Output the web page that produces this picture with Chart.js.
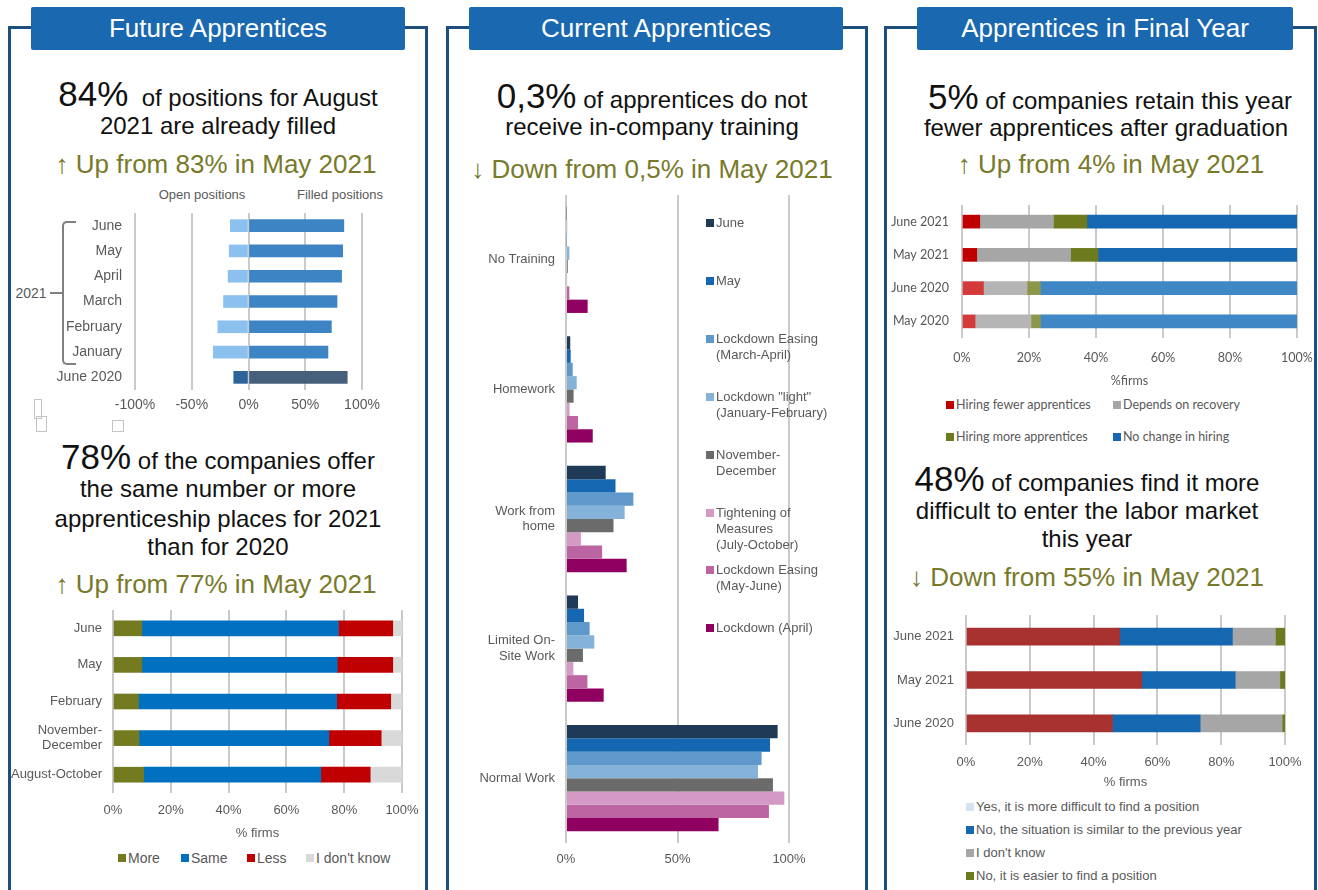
<!DOCTYPE html>
<html>
<head>
<meta charset="utf-8">
<title>Apprentices survey</title>
<script src="https://cdn.jsdelivr.net/npm/chart.js@4.4.1/dist/chart.umd.min.js"></script>
<style>
  html, body { margin: 0; padding: 0; background: #fff; }
  body { width: 1318px; height: 890px; position: relative; overflow: hidden;
         font-family: "Liberation Sans", Arial, sans-serif; }
  .panel { position: absolute; top: 26px; height: 880px; border: 3px solid #1d4f7c;
           border-bottom: none; box-sizing: border-box; }
  .hdr { position: absolute; top: 7px; height: 43px; background: #1a68b0; color: #fff;
         font-size: 26px; line-height: 43px; text-align: center; border-radius: 2px; }
  .ln { position: absolute; white-space: nowrap; transform: translateX(-50%);
        color: #111; font-size: 24px; line-height: 34px; }
  .ln b { font-weight: normal; font-size: 35px; }
  .up { color: #787a2a; font-size: 26px; }
  .note { position: absolute; font-size: 13px; color: #595959; white-space: nowrap;
          transform: translateX(-50%); line-height: 16px; }
  canvas { position: absolute; }
  .lg { position: absolute; font-size: 13px; color: #595959; white-space: pre-line; line-height: 16px; }
  .lg i { position: absolute; left: -10px; top: 4px; width: 8px; height: 8px; }
  .bk { position: absolute; border: 2px solid #808080; border-right: none; border-radius: 5px 0 0 5px; }
  .odd { position: absolute; border: 1px solid #c4c4c4; }
</style>
</head>
<body>

<div class="panel" style="left:8px;width:420px"></div>
<div class="panel" style="left:446px;width:422px"></div>
<div class="panel" style="left:884px;width:433px"></div>
<div class="hdr" style="left:31px;width:374px">Future Apprentices</div>
<div class="hdr" style="left:469px;width:374px">Current Apprentices</div>
<div class="hdr" style="left:917px;width:376px">Apprentices in Final Year</div>

<!-- panel 1 texts -->
<div class="ln" style="left:218px;top:74px;line-height:40px"><b>84%</b>&nbsp; of positions for August</div>
<div class="ln" style="left:218px;top:109px">2021 are already filled</div>
<div class="ln up" style="left:216px;top:147px">↑ Up from 83% in May 2021</div>
<div class="note" style="left:202px;top:187px">Open positions</div>
<div class="note" style="left:340px;top:187px">Filled positions</div>
<div class="note" style="left:31px;top:285px;font-size:14px">2021</div>
<div class="bk" style="left:62px;top:221px;width:12px;height:140px"></div>
<div style="position:absolute;left:50px;top:292px;width:12px;height:2px;background:#808080"></div>
<div class="odd" style="left:34px;top:399px;width:6px;height:18px"></div>
<div class="odd" style="left:36px;top:416px;width:9px;height:14px"></div>
<div class="odd" style="left:112px;top:420px;width:10px;height:10px"></div>

<div class="ln" style="left:218px;top:437px;line-height:40px"><b>78%</b> of the companies offer</div>
<div class="ln" style="left:218px;top:472px">the same number or more</div>
<div class="ln" style="left:218px;top:502px">apprenticeship places for 2021</div>
<div class="ln" style="left:218px;top:530px">than for 2020</div>
<div class="ln up" style="left:216px;top:567px">↑ Up from 77% in May 2021</div>

<!-- panel 2 texts -->
<div class="ln" style="left:652px;top:76px;line-height:40px"><b>0,3%</b> of apprentices do not</div>
<div class="ln" style="left:652px;top:110px">receive in-company training</div>
<div class="ln up" style="left:652px;top:152px">↓ Down from 0,5% in May 2021</div>

<!-- panel 3 texts -->
<div class="ln" style="left:1110px;top:77px;line-height:40px"><b>5%</b> of companies retain this year</div>
<div class="ln" style="left:1106px;top:111px">fewer apprentices after graduation</div>
<div class="ln up" style="left:1111px;top:147px">↑ Up from 4% in May 2021</div>
<div class="ln" style="left:1087px;top:459px;line-height:40px"><b>48%</b> of companies find it more</div>
<div class="ln" style="left:1087px;top:494px">difficult to enter the labor market</div>
<div class="ln" style="left:1087px;top:522px">this year</div>
<div class="ln up" style="left:1087px;top:560px">↓ Down from 55% in May 2021</div>

<script>
// --- Future apprentices: open vs filled positions (%)
const futureLabels = ['June', 'May', 'April', 'March', 'February', 'January', 'June 2020'];
const openPositions = [-16, -17, -18, -22, -27, -31, -13];
const filledPositions = [84, 83, 82, 78, 73, 70, 87];

// --- Apprenticeship places 2021 vs 2020 (% firms)
const offerLabels = ['June', 'May', 'February', ['November-', 'December'], 'August-October'];
const offerSeries = ['More', 'Same', 'Less', "I don't know"];
const offerMore = [10, 10, 8.8, 9, 10.6];
const offerSame = [68, 67.6, 68.6, 65.7, 61.3];
const offerLess = [18.8, 19.2, 18.7, 18.1, 17.1];
const offerDontKnow = [3.2, 3.2, 3.9, 7.2, 11];

// --- Current apprentices: training situation (%)
const trainingLabels = ['No Training', 'Homework', ['Work from', 'home'], ['Limited On-', 'Site Work'], 'Normal Work'];
const trainingSeries = ['June', 'May', 'Lockdown Easing\n(March-April)', 'Lockdown "light"\n(January-February)',
  'November-\nDecember', 'Tightening of\nMeasures\n(July-October)', 'Lockdown Easing\n(May-June)', 'Lockdown (April)'];
const trainJune = [0.3, 1.9, 17.8, 5.4, 94.9];
const trainMay = [0.5, 2.1, 22.2, 8.1, 91.5];
const trainEasingMarApr = [0.2, 3.0, 30.2, 10.6, 87.7];
const trainLight = [1.5, 4.8, 26.3, 12.7, 86.1];
const trainNovDec = [0.8, 3.4, 21.3, 7.6, 92.8];
const trainTightening = [0.5, 1.6, 6.7, 3.3, 97.9];
const trainEasingMayJun = [1.5, 5.4, 16.2, 9.6, 91.0];
const trainLockdown = [9.7, 12.0, 27.2, 16.9, 68.4];

// --- Final year: hiring after graduation (% firms)
const finalLabels = ['June 2021', 'May 2021', 'June 2020', 'May 2020'];
const finalSeries = ['Hiring fewer apprentices', 'Depends on recovery', 'Hiring more apprentices', 'No change in hiring'];
const hireFewer = [5.3, 4.4, 6.4, 3.9];
const hireDepends = [22, 28, 13, 16.7];
const hireMore = [10, 8.2, 4, 2.8];
const hireNoChange = [62.7, 59.4, 76.6, 76.6];

// --- Harder to enter the labour market (% firms)
const marketLabels = ['June 2021', 'May 2021', 'June 2020'];
const marketSeries = ['Yes, it is more difficult to find a position', 'No, the situation is similar to the previous year',
  "I don't know", 'No, it is easier to find a position'];
const moreDifficult = [48.2, 55.1, 45.9];
const sameAsBefore = [35.3, 29.3, 27.5];
const marketDontKnow = [13.5, 14.0, 25.7];
const easier = [3.0, 1.6, 0.9];

Chart.defaults.font.family = '"Liberation Sans", Arial, sans-serif';
Chart.defaults.color = '#595959';
Chart.defaults.animation = false;
Chart.defaults.plugins.legend.display = false;
Chart.defaults.plugins.tooltip.enabled = false;

function place(id, left, top, w, h) {
  const c = document.createElement('canvas');
  c.id = id;
  c.width = w;
  c.height = h;
  c.style.left = left + 'px';
  c.style.top = top + 'px';
  document.body.appendChild(c);
  return c.getContext('2d');
}

function legendItem(text, color, x, y, extra) {
  const d = document.createElement('div');
  d.className = 'lg';
  d.style.left = x + 'px';
  d.style.top = (y - 8) + 'px';
  if (extra) Object.assign(d.style, extra);
  d.textContent = text;
  const sw = document.createElement('i');
  sw.style.background = color;
  d.appendChild(sw);
  document.body.appendChild(d);
}

// x axis helper: percentage ticks, vertical grid only
function pctAxis(min, max, step, height, pad, size, extra) {
  return Object.assign({
    stacked: true, min: min, max: max,
    ticks: { stepSize: step, callback: v => v + '%', font: { size: size }, padding: pad },
    grid: { color: '#cacaca', lineWidth: 2, drawTicks: false },
    border: { display: false },
    afterFit: s => { s.height = height; s.paddingLeft = 0; s.paddingRight = 0; }
  }, extra || {});
}
// category axis helper: fixed width, no label overhang so the plot edges stay put
function catAxis(width, pad, size, family) {
  return {
    stacked: true,
    grid: { display: false, drawTicks: false },
    border: { display: false },
    ticks: { padding: pad, font: { size: size, family: family } },
    afterFit: s => { s.width = width; s.paddingTop = 0; s.paddingBottom = 0; }
  };
}

// chart 1
const is2020 = futureLabels.map(l => l === 'June 2020');
new Chart(place('futureChart', 10, 205, 380, 212), {
  type: 'bar',
  data: {
    labels: futureLabels,
    datasets: [
      { label: 'Open positions', data: openPositions, barThickness: 12,
        backgroundColor: is2020.map(b => b ? '#2c6399' : '#8cc1ef') },
      { label: 'Filled positions', data: filledPositions, barThickness: 12,
        backgroundColor: is2020.map(b => b ? '#465f7b' : '#3d84c4') }
    ]
  },
  options: {
    indexAxis: 'y', responsive: false,
    layout: { padding: { top: 8, right: 28, bottom: 0, left: 0 } },
    scales: {
      x: pctAxis(-100, 100, 50, 27, 7, 14, {}),
      y: catAxis(125, 13, 14)
    }
  }
});

// chart 2
const offerColors = ['#737a1f', '#0070c0', '#c00000', '#d9d9d9'];
new Chart(place('offerChart', 10, 600, 410, 241), {
  type: 'bar',
  data: {
    labels: offerLabels,
    datasets: [offerMore, offerSame, offerLess, offerDontKnow].map((d, i) => ({
      label: offerSeries[i], data: d, backgroundColor: offerColors[i], barThickness: 15
    }))
  },
  options: {
    indexAxis: 'y', responsive: false,
    layout: { padding: { top: 10, right: 18, bottom: 0, left: 0 } },
    scales: {
      x: pctAxis(0, 100, 20, 48, 10, 13, {
        title: { display: true, text: '% firms', font: { size: 13 }, padding: 0 }
      }),
      y: catAxis(103, 11, 13)
    }
  }
});
[118, 181, 247, 306].forEach((x, i) => legendItem(offerSeries[i], offerColors[i], x + 10, 858, { fontSize: '14px' }));

// chart 3
const trainColors = ['#1e3a56', '#1467b0', '#5f98cb', '#85b2d9', '#6b6b6b', '#d49ac5', '#bd64a3', '#900060'];
const trainData = [trainJune, trainMay, trainEasingMarApr, trainLight, trainNovDec, trainTightening, trainEasingMayJun, trainLockdown];
new Chart(place('trainingChart', 449, 188, 415, 685), {
  type: 'bar',
  data: {
    labels: trainingLabels,
    datasets: trainData.map((d, i) => ({
      label: trainingSeries[i].replace(/\n/g, ' '), data: d, backgroundColor: trainColors[i],
      categoryPercentage: 0.82, barPercentage: 1.0
    }))
  },
  options: {
    indexAxis: 'y', responsive: false,
    layout: { padding: { top: 7, right: 75, bottom: 0, left: 0 } },
    scales: {
      x: pctAxis(0, 100, 50, 30, 9, 13, { stacked: false }),
      y: Object.assign(catAxis(117, 11, 13), { stacked: false })
    }
  }
});
trainingSeries.forEach((s, i) => legendItem(s, trainColors[i], 716, 223 + i * 57.9));

// chart 4
const lato = 'Lato, "Liberation Sans", sans-serif';
const recent = finalLabels.map(l => l.endsWith('2021'));
const hireColors = [['#c00000', '#d43a3a'], ['#a6a6a6', '#b5b5b5'], ['#6e7a1e', '#8d9748'], ['#1467b0', '#3f87c5']];
new Chart(place('finalChart', 887, 198, 428, 190), {
  type: 'bar',
  data: {
    labels: finalLabels,
    datasets: [hireFewer, hireDepends, hireMore, hireNoChange].map((d, i) => ({
      label: finalSeries[i], data: d, barThickness: 13,
      backgroundColor: recent.map(r => r ? hireColors[i][0] : hireColors[i][1])
    }))
  },
  options: {
    indexAxis: 'y', responsive: false,
    layout: { padding: { top: 7, right: 18, bottom: 0, left: 0 } },
    scales: {
      x: pctAxis(0, 100, 20, 50, 12, 12.5, {
        ticks: { stepSize: 20, callback: v => v + '%', font: { size: 12.5, family: lato }, padding: 12 },
        title: { display: true, text: '%firms', font: { size: 12.5, family: lato }, padding: 0 }
      }),
      y: catAxis(75, 13, 12.5, lato)
    }
  }
});
[[945, 405], [1112, 405], [945, 437], [1112, 437]].forEach((p, i) =>
  legendItem(finalSeries[i], hireColors[i][0], p[0] + 11, p[1], { fontFamily: lato, fontSize: '12.5px' }));

// chart 5
const marketColors = ['#a83230', '#1468b0', '#a6a6a6', '#6d7a1e'];
new Chart(place('marketChart', 887, 605, 428, 185), {
  type: 'bar',
  data: {
    labels: marketLabels,
    datasets: [moreDifficult, sameAsBefore, marketDontKnow, easier].map((d, i) => ({
      label: marketSeries[i], data: d, backgroundColor: marketColors[i], barThickness: 17
    }))
  },
  options: {
    indexAxis: 'y', responsive: false,
    layout: { padding: { top: 10, right: 30, bottom: 0, left: 0 } },
    scales: {
      x: pctAxis(0, 100, 20, 45, 10, 13, {
        title: { display: true, text: '% firms', font: { size: 13 }, padding: 0 }
      }),
      y: catAxis(79, 12, 13)
    }
  }
});
// the reference legend shows a pale swatch for the first series
const marketSwatches = ['#d6e4f1', marketColors[1], marketColors[2], marketColors[3]];
marketSeries.forEach((s, i) => legendItem(s, marketSwatches[i], 976, 807 + i * 23));
</script>
</body>
</html>
